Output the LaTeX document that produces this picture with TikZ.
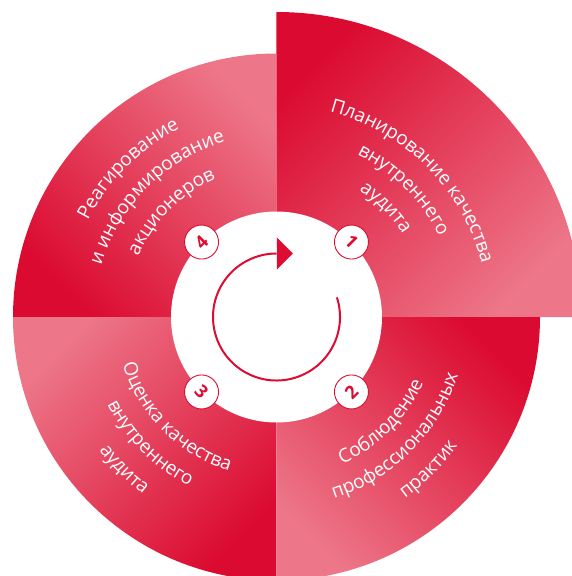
\documentclass[tikz,border=0pt]{standalone}
\usepackage{fontspec}
\setmainfont{Open Sans}
\usetikzlibrary{decorations.text}
\definecolor{dk}{RGB}{219,10,48}
\definecolor{pk}{RGB}{237,118,136}
\definecolor{ln}{RGB}{220,12,50}
\newcommand\arcfont{\fontsize{19}{19}\selectfont}
\tikzset{
  arctext/.style={decorate, decoration={text along path, text align=center, text color=white, text={|\arcfont|#1}}},
  numcirc/.style={circle, draw=ln, line width=0.9pt, fill=white, minimum size=34pt, inner sep=0pt, text=ln, font=\fontsize{18}{18}\selectfont\bfseries},
  ringline/.style={draw=ln, line width=2pt},
}
\begin{document}
\begin{tikzpicture}[x=1pt,y=1pt]
\useasboundingbox (-276.5,-259) rectangle (295.5,317);
\clip (-276.5,-259) rectangle (295.5,317);
\coordinate (c) at (0,0);
% quadrants
\shade[top color=dk,bottom color=pk,shading angle=45] (c) -- (90:305) arc[start angle=90,end angle=0,radius=305pt] -- cycle;
\shade[top color=pk,bottom color=dk,shading angle=-45] (c) -- (180:263.5) arc[start angle=180,end angle=90,radius=263.5pt] -- cycle;
\shade[top color=pk,bottom color=dk,shading angle=45] (c) -- (270:263.5) arc[start angle=270,end angle=180,radius=263.5pt] -- cycle;
\shade[top color=dk,bottom color=pk,shading angle=-45] (c) -- (0:263.5) arc[start angle=0,end angle=-90,radius=263.5pt] -- cycle;
% centre
\fill[white] (c) circle[radius=105.5pt];
% texts Q1
\path[arctext={Планирование качества}] (85:212) arc[start angle=85,end angle=5,radius=212pt];
\path[arctext={внутреннего}] (85:181.5) arc[start angle=85,end angle=5,radius=181.5pt];
\path[arctext={аудита}] (85:151) arc[start angle=85,end angle=5,radius=151pt];
% texts Q4
\path[arctext={Реагирование}] (175:212) arc[start angle=175,end angle=95,radius=212pt];
\path[arctext={и информирование}] (175:182.5) arc[start angle=175,end angle=95,radius=182.5pt];
\path[arctext={акционеров}] (175:151) arc[start angle=175,end angle=95,radius=151pt];
% texts Q3
\path[arctext={Оценка качества}] (185:161) arc[start angle=185,end angle=265,radius=161pt];
\path[arctext={внутреннего}] (185:190.5) arc[start angle=185,end angle=265,radius=190.5pt];
\path[arctext={аудита}] (185:222) arc[start angle=185,end angle=265,radius=222pt];
% texts Q2
\path[arctext={Соблюдение}] (275:161) arc[start angle=275,end angle=355,radius=161pt];
\path[arctext={профессиональных}] (275:190.5) arc[start angle=275,end angle=355,radius=190.5pt];
\path[arctext={практик}] (275:222) arc[start angle=275,end angle=355,radius=222pt];
% cycle arrow
\coordinate (as) at (18:63.5);
\coordinate (ae) at (90:63.5);
\draw[ringline] (as) arc[start angle=18,end angle=-270,radius=63.5pt];
\fill[ln] (0.5,47.5) -- (0.5,79.5) -- (16.5,63.5) -- cycle;
% numbers
\node[numcirc, rotate=-45] (n1) at (45:106) {1};
\node[numcirc, rotate=45] (n2) at (-45:106) {2};
\node[numcirc, rotate=-45] (n3) at (225:106) {3};
\node[numcirc, rotate=45] (n4) at (135:106) {4};
\end{tikzpicture}
\end{document}
